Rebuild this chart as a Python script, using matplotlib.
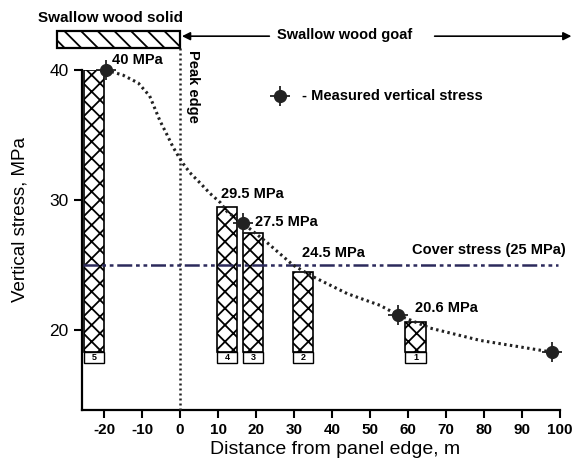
import matplotlib
matplotlib.use("Agg")
import matplotlib.pyplot as plt
from matplotlib.patches import Rectangle

plt.rcParams['font.family'] = ['Liberation Sans', 'DejaVu Sans']
plt.rcParams['axes.unicode_minus'] = False
plt.rcParams['hatch.linewidth'] = 1.3

# Data
bar_ids = ['5', '4', '3', '2', '1']
bar_x = [-22.7, 12.4, 19.2, 32.4, 62.0]
bar_vals = [40.0, 29.5, 27.5, 24.5, 20.6]
bar_labels = ['40 MPa', '29.5 MPa', '27.5 MPa', '24.5 MPa', '20.6 MPa']

meas_x = [-19.5, 16.6, 57.4, 97.9]
meas_y = [40.0, 28.2, 21.15, 18.3]

curve_x = [-19.5, -15, -11, -8, -5.3, -3.4, -1.9, -0.5, 0.8, 2.6, 5.3, 7.9,
           10.6, 12.4, 16.6, 23, 29.7, 35, 44, 52.6, 57.4, 65.8, 79, 97.9]
curve_y = [40.0, 39.6, 39.0, 38.0, 36.1, 35.0, 34.1, 33.4, 32.8, 32.1, 31.3,
           30.5, 29.8, 29.1, 28.2, 26.7, 25.0, 24.1, 22.8, 21.9, 21.15, 20.15,
           19.2, 18.3]

cover_stress = 25.0
xticks = list(range(-20, 101, 10))
yticks = [20, 30, 40]

bar_width = 5.4
bar_base = 17.5
box_top = 18.3

fig = plt.figure(figsize=(5.78, 4.65), dpi=100)
ax = fig.add_axes([0.1419, 0.1183, 0.827, 0.7312])
ax.set_xlim(-25.8, 100)
ax.set_ylim(13.85, 40)

for s in ['top', 'right']:
    ax.spines[s].set_visible(False)
for s in ['left', 'bottom']:
    ax.spines[s].set_linewidth(1.6)

# pillars (bars) with numbered boxes at the bottom
ax.bar(bar_x, [v - box_top for v in bar_vals], bottom=box_top, width=bar_width,
       color='white', edgecolor='black', hatch='xx', linewidth=1.2, zorder=2)
ax.bar(bar_x, [box_top - bar_base] * len(bar_x), bottom=bar_base, width=bar_width,
       color='white', edgecolor='black', linewidth=1.0, zorder=2)
for x, n in zip(bar_x, bar_ids):
    ax.text(x, (bar_base + box_top) / 2, n, ha='center', va='center',
            fontsize=6.5, fontweight='bold', zorder=3)

# cover stress line
ax.plot([-25.5, 99.5], [cover_stress, cover_stress], color='#2c2a5c', lw=1.8,
        ls=(0, (6, 1.5, 1.5, 1.5, 1.5, 1.5)), zorder=4)
ax.text(61, 26.15, 'Cover stress (25 MPa)', fontsize=10.5, fontweight='bold',
        va='center', ha='left')

# dotted stress curve + measured points
ax.plot(curve_x, curve_y, color='#222222', lw=2.2, ls=(0, (0.8, 1.1)),
        zorder=5, clip_on=False)
ax.plot(meas_x, meas_y, 'o', color='#222222', ms=8.5, zorder=6, clip_on=False)
ax.plot(meas_x, meas_y, '+', color='#222222', ms=14, mew=1.3, zorder=6, clip_on=False)

# value labels
lab_pos = [(-17.9, 40.8), (10.8, 30.5), (19.7, 28.3), (32.1, 25.9), (61.8, 21.7)]
for (tx, ty), t in zip(lab_pos, bar_labels):
    ax.text(tx, ty, t, fontsize=10.5, fontweight='bold', va='center', ha='left',
            clip_on=False)

# legend marker
ax.plot([26.3], [38.0], 'o', color='#222222', ms=8.5, clip_on=False)
ax.plot([26.3], [38.0], '+', color='#222222', ms=14, mew=1.3, clip_on=False)
ax.text(32.1, 38.0, '- Measured vertical stress', fontsize=10.5,
        fontweight='bold', va='center', ha='left')

# peak edge
ax.plot([0, 0], [13.85, 41.7], color='#222222', lw=1.8, ls=(0, (0.8, 1.2)),
        clip_on=False, zorder=3)
ax.text(3.3, 41.5, 'Peak edge', rotation=-90, fontsize=10.5, fontweight='bold',
        ha='center', va='top')

# swallow wood solid block and goaf arrows
ax.add_patch(Rectangle((-32.4, 41.7), 32.4, 1.3, facecolor='white',
                       edgecolor='black', hatch='\\\\', lw=1.6, clip_on=False))
ax.text(-37.4, 44.0, 'Swallow wood solid', fontsize=11, fontweight='bold',
        va='center', ha='left')
ax.annotate('', xy=(0.5, 42.6), xytext=(23.5, 42.6), annotation_clip=False,
            arrowprops=dict(arrowstyle='-|>', color='black', lw=1.2,
                            mutation_scale=12, shrinkA=0, shrinkB=0))
ax.text(25.5, 42.7, 'Swallow wood goaf', fontsize=10.5, fontweight='bold',
        va='center', ha='left')
ax.annotate('', xy=(103, 42.6), xytext=(67, 42.6), annotation_clip=False,
            arrowprops=dict(arrowstyle='-|>', color='black', lw=1.2,
                            mutation_scale=12, shrinkA=0, shrinkB=0))

ax.set_xticks(xticks)
ax.set_yticks(yticks)
ax.tick_params(direction='out', length=6, width=1.5)
ax.tick_params(axis='x', labelsize=11)
ax.tick_params(axis='y', labelsize=12.5)
for lab in ax.get_xticklabels():
    lab.set_fontweight('bold')
ax.set_xlabel('Distance from panel edge, m', fontsize=14)
ax.xaxis.set_label_coords(0.53, -0.09)
ax.set_ylabel('Vertical stress, MPa', fontsize=13.5)
ax.yaxis.set_label_coords(-0.113, 0.56)

fig.savefig('out.png', dpi=100)
